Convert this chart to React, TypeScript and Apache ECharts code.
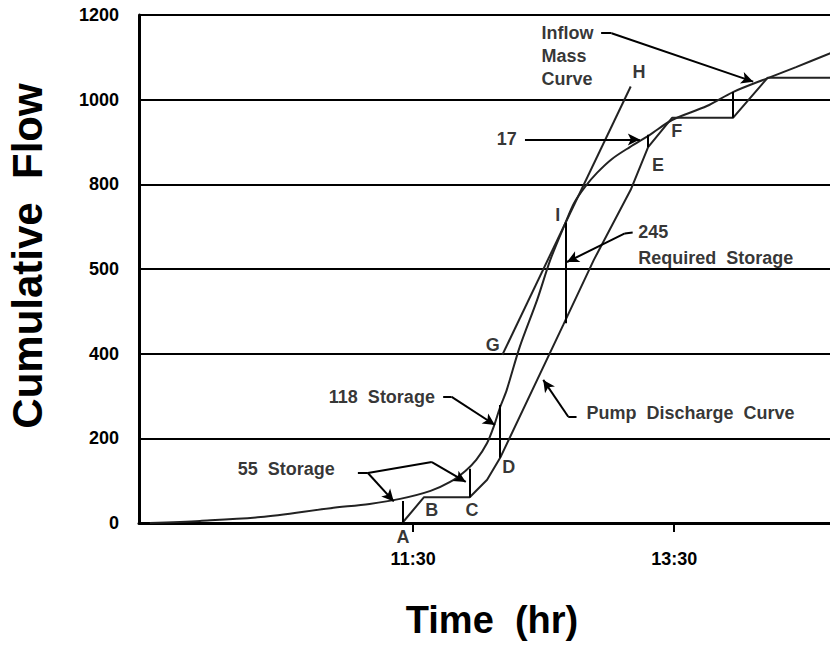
import React, { useEffect, useRef } from 'react';
import * as echarts from 'echarts';

const FONT = 'Liberation Sans, Arial, Helvetica, sans-serif';

// time in minutes after midnight, flow in cumulative units
const inflowTime = [569, 592, 620, 652, 670, 684, 698, 707, 714, 719, 724, 727, 730, 733, 739, 747, 753, 760, 764, 769, 774.5, 781.4, 789.6, 798.8, 809, 825, 837, 853, 866, 882];
const inflowFlow = [0, 5, 14, 35, 45, 57, 76, 97, 123, 149, 189, 227, 274, 314, 416, 527, 621, 709, 756, 794, 827, 860, 888, 917, 952, 985, 1018, 1051, 1077, 1110];

const pumpTime = [685, 695, 716, 724, 730, 759, 773, 790, 798, 809, 837, 853, 882];
const pumpFlow = [0, 61, 61, 102, 154, 468, 621, 787, 888, 957, 957, 1052, 1052];

const tangentTime = [731, 790];
const tangentFlow = [397, 1031];

const storageTime = [685, 716, 730, 760, 798, 837];
const storageLow = [0, 61, 154, 472, 888, 957];
const storageHigh = [52, 128, 279, 709, 917, 1018];

const pointNames = ['A', 'B', 'C', 'D', 'E', 'F', 'G', 'H', 'I'];
const pointTime = [685.3, 698.6, 717, 734, 802.5, 811.2, 726.6, 793.8, 756.5];
const pointFlow = [-33, 31, 31, 132, 846, 926, 420, 1065, 728];

const noteText = ['Inflow\nMass\nCurve', '17', '245', 'Required  Storage', '118  Storage', '55  Storage', 'Pump  Discharge  Curve'];
const noteTime = [749, 733, 793.5, 793.5, 700, 654, 769.7];
const noteFlow = [1102, 907, 688, 625, 298, 127, 259];
const noteSide = ['right', 'inside', 'right', 'right', 'left', 'left', 'right'];

const leaders = [
  [[776.4, 1157], [781.2, 1157], [846.3, 1042.5]],
  [[741.4, 906], [794.2, 906]],
  [[790.9, 686], [787.3, 684], [760.7, 616.5]],
  [[703.8, 298], [707.7, 298], [727.6, 231.5]],
  [[664.6, 118], [669.2, 118], [681.1, 51]],
  [[669.2, 118], [698.6, 144], [714.2, 97]],
  [[765.1, 251], [761.3, 251], [749.8, 338]],
];

const yTickValues = [0, 200, 400, 600, 800, 1000, 1200];
const yTickLabels = ['0', '200', '400', '500', '800', '1000', '1200'];
const xTickValues = [690, 810];
const xTickLabels = ['11:30', '13:30'];

export default function App() {
  const ref = useRef<HTMLDivElement>(null);
  useEffect(() => {
    if (!ref.current) return;
    const chart = echarts.init(ref.current, null, { renderer: 'svg' });

    const leaderLines: any[] = [];
    leaders.forEach((pl) => {
      for (let i = 0; i < pl.length - 1; i++) {
        leaderLines.push([
          { coord: pl[i], symbol: 'none' },
          { coord: pl[i + 1], symbol: i === pl.length - 2 ? 'arrow' : 'none' },
        ]);
      }
    });
    const storageLines = storageTime.map((t, i) => [
      { coord: [t, storageLow[i]], symbol: 'none' },
      { coord: [t, storageHigh[i]], symbol: 'none' },
    ]);

    const labelBase = {
      show: true,
      color: '#000',
      fontFamily: FONT,
      fontWeight: 'bold',
      fontSize: 18,
      distance: 0,
    };

    chart.setOption({
      animation: false,
      backgroundColor: '#fff',
      grid: { left: 139, top: 15, right: 0, bottom: 123, containLabel: false, outerBoundsMode: 'none' },
      xAxis: {
        type: 'value',
        min: 564,
        max: 881.6,
        axisLine: { show: true, onZero: false, lineStyle: { color: '#000', width: 3 } },
        axisTick: { show: true, customValues: xTickValues, length: 9, lineStyle: { color: '#000', width: 2 } },
        axisLabel: {
          customValues: xTickValues,
          formatter: (v: number) => xTickLabels[xTickValues.indexOf(v)] ?? '',
          color: '#000',
          fontFamily: FONT,
          fontWeight: 'bold',
          fontSize: 18,
          margin: 27,
        },
        splitLine: { show: false },
      },
      yAxis: {
        type: 'value',
        min: 0,
        max: 1200,
        interval: 200,
        axisLine: { show: true, lineStyle: { color: '#000', width: 3 } },
        axisTick: { show: false },
        axisLabel: {
          formatter: (v: number) => yTickLabels[yTickValues.indexOf(v)] ?? '',
          color: '#000',
          fontFamily: FONT,
          fontWeight: 'bold',
          fontSize: 18,
          margin: 20,
        },
        splitLine: { show: true, lineStyle: { color: '#000', width: 2 } },
      },
      graphic: [
        {
          type: 'text',
          x: 27,
          y: 256,
          rotation: Math.PI / 2,
          style: {
            text: 'Cumulative  Flow',
            font: `bold 42px ${FONT}`,
            fill: '#000',
            textAlign: 'center',
            textVerticalAlign: 'middle',
          },
        },
        {
          type: 'text',
          x: 492,
          y: 620,
          style: {
            text: 'Time  (hr)',
            font: `bold 38px ${FONT}`,
            fill: '#000',
            textAlign: 'center',
            textVerticalAlign: 'middle',
          },
        },
      ],
      series: [
        {
          name: 'Inflow Mass Curve',
          type: 'line',
          data: inflowTime.map((t, i) => [t, inflowFlow[i]]),
          smooth: 0.3,
          symbol: 'none',
          lineStyle: { color: '#222', width: 2 },
          silent: true,
        },
        {
          name: 'Pump Discharge Curve',
          type: 'line',
          data: pumpTime.map((t, i) => [t, pumpFlow[i]]),
          symbol: 'none',
          lineStyle: { color: '#222', width: 2 },
          silent: true,
          markLine: {
            silent: true,
            symbol: ['none', 'none'],
            label: { show: false },
            lineStyle: { color: '#000', width: 2, type: 'solid' },
            data: storageLines,
          },
        },
        {
          name: 'Tangent',
          type: 'line',
          data: tangentTime.map((t, i) => [t, tangentFlow[i]]),
          symbol: 'none',
          lineStyle: { color: '#222', width: 2 },
          silent: true,
          markLine: {
            silent: true,
            symbolSize: [9, 12],
            label: { show: false },
            lineStyle: { color: '#000', width: 2, type: 'solid' },
            itemStyle: { color: '#000' },
            data: leaderLines,
          },
        },
        {
          name: 'Points',
          type: 'scatter',
          symbolSize: 0,
          clip: false,
          silent: true,
          itemStyle: { color: 'transparent' },
          data: pointNames.map((n, i) => ({ name: n, value: [pointTime[i], pointFlow[i]] })),
          label: { ...labelBase, position: 'inside', formatter: '{b}' },
        },
        {
          name: 'Notes',
          type: 'scatter',
          symbolSize: 0,
          clip: false,
          silent: true,
          itemStyle: { color: 'transparent' },
          data: noteText.map((n, i) => ({
            name: n,
            value: [noteTime[i], noteFlow[i]],
            label: { position: noteSide[i] },
          })),
          label: { ...labelBase, formatter: '{b}', lineHeight: 23 },
        },
      ],
    });
    return () => chart.dispose();
  }, []);
  return <div ref={ref} style={{ position: 'fixed', left: 0, top: 0, width: 830, height: 646 }} />;
}
